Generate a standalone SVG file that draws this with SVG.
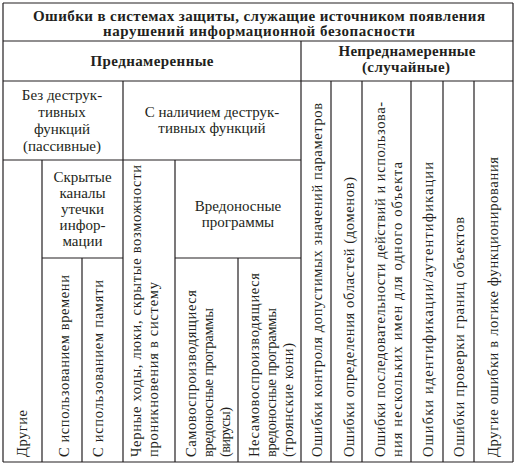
<svg xmlns="http://www.w3.org/2000/svg" width="519" height="469" viewBox="0 0 519 469">
<style>
.b{font-weight:bold;font-size:15px}
.t{font-size:15px;text-anchor:middle}
.v{font-size:14.5px}
.grid line{stroke:#231f20;stroke-width:1.2}
</style>
<rect width="519" height="469" fill="#fff"/>
<g id="connectors" class="grid">
<line x1="3" y1="3" x2="513" y2="3"/>
<line x1="3" y1="41" x2="513" y2="41"/>
<line x1="3" y1="81" x2="513" y2="81"/>
<line x1="3" y1="160" x2="301" y2="160"/>
<line x1="42" y1="258" x2="123" y2="258"/>
<line x1="175" y1="258" x2="301" y2="258"/>
<line x1="3" y1="462" x2="513" y2="462"/>
<line x1="3" y1="3" x2="3" y2="462"/>
<line x1="513" y1="3" x2="513" y2="462"/>
<line x1="301" y1="41" x2="301" y2="462"/>
<line x1="123" y1="81" x2="123" y2="462"/>
<line x1="42" y1="160" x2="42" y2="462"/>
<line x1="82" y1="258" x2="82" y2="462"/>
<line x1="175" y1="160" x2="175" y2="462"/>
<line x1="238" y1="258" x2="238" y2="462"/>
<line x1="331" y1="81" x2="331" y2="462"/>
<line x1="362" y1="81" x2="362" y2="462"/>
<line x1="411" y1="81" x2="411" y2="462"/>
<line x1="443" y1="81" x2="443" y2="462"/>
<line x1="474" y1="81" x2="474" y2="462"/>
</g>
<g font-family="Liberation Serif, Times New Roman, serif" fill="#231f20">
<g id="title">
<text class="b" x="259" y="21" text-anchor="middle" textLength="452" lengthAdjust="spacing">Ошибки в системах защиты, служащие источником появления</text>
<text class="b" x="259" y="36" text-anchor="middle" textLength="312" lengthAdjust="spacing">нарушений информационной безопасности</text>
</g>
<g id="intentional">
<text class="b" x="152" y="66" text-anchor="middle" textLength="123" lengthAdjust="spacing">Преднамеренные</text>
</g>
<g id="unintentional">
<text class="b" x="407" y="56" text-anchor="middle" textLength="137" lengthAdjust="spacing">Непреднамеренные</text>
<text class="b" x="406" y="72" text-anchor="middle" textLength="88" lengthAdjust="spacing">(случайные)</text>
</g>
<g id="passive">
<text class="t" x="62" y="100">Без деструк-</text>
<text class="t" x="62" y="117">тивных</text>
<text class="t" x="62" y="134">функций</text>
<text class="t" x="62" y="151">(пассивные)</text>
</g>
<g id="destructive">
<text class="t" x="212" y="117">С наличием деструк-</text>
<text class="t" x="212" y="133">тивных функций</text>
</g>
<g id="covert">
<text class="t" x="82.5" y="182">Скрытые</text>
<text class="t" x="82.5" y="198">каналы</text>
<text class="t" x="82.5" y="214">утечки</text>
<text class="t" x="82.5" y="230">инфор-</text>
<text class="t" x="82.5" y="246">мации</text>
</g>
<g id="malware">
<text class="t" x="238" y="211">Вредоносные</text>
<text class="t" x="238" y="227">программы</text>
</g>
<g id="other">
<text class="v" transform="translate(27,457) rotate(-90)" textLength="47" lengthAdjust="spacing">Другие</text>
</g>
<g id="time">
<text class="v" transform="translate(69,457) rotate(-90)" textLength="182" lengthAdjust="spacing">С использованием времени</text>
</g>
<g id="memory">
<text class="v" transform="translate(103,457) rotate(-90)" textLength="177" lengthAdjust="spacing">С использованием памяти</text>
</g>
<g id="backdoors">
<text class="v" transform="translate(141,457) rotate(-90)" textLength="292" lengthAdjust="spacing">Черные ходы, люки, скрытые возможности</text>
<text class="v" transform="translate(158,457) rotate(-90)" textLength="175" lengthAdjust="spacing">проникновения в систему</text>
</g>
<g id="viruses">
<text class="v" transform="translate(196,457) rotate(-90)" textLength="167" lengthAdjust="spacing">Самовоспроизводящиеся</text>
<text class="v" transform="translate(213,457) rotate(-90)" textLength="149" lengthAdjust="spacing">вредоносные программы</text>
<text class="v" transform="translate(230,457) rotate(-90)" textLength="50" lengthAdjust="spacing">(вирусы)</text>
</g>
<g id="trojans">
<text class="v" transform="translate(259,457) rotate(-90)" textLength="184" lengthAdjust="spacing">Несамовоспроизводящиеся</text>
<text class="v" transform="translate(276,457) rotate(-90)" textLength="149" lengthAdjust="spacing">вредоносные программы</text>
<text class="v" transform="translate(293,457) rotate(-90)" textLength="114" lengthAdjust="spacing">(троянские кони)</text>
</g>
<g id="param-control">
<text class="v" transform="translate(322,457) rotate(-90)" textLength="354" lengthAdjust="spacing">Ошибки контроля допустимых значений параметров</text>
</g>
<g id="domains">
<text class="v" transform="translate(354,457) rotate(-90)" textLength="280" lengthAdjust="spacing">Ошибки определения областей (доменов)</text>
</g>
<g id="sequence">
<text class="v" transform="translate(385,457) rotate(-90)" textLength="355" lengthAdjust="spacing">Ошибки последовательности действий  и использова-</text>
<text class="v" transform="translate(402,457) rotate(-90)" textLength="295" lengthAdjust="spacing">ния нескольких имен для одного объекта</text>
</g>
<g id="auth">
<text class="v" transform="translate(433,457) rotate(-90)" textLength="295" lengthAdjust="spacing">Ошибки идентификации/аутентификации</text>
</g>
<g id="bounds">
<text class="v" transform="translate(464,457) rotate(-90)" textLength="240" lengthAdjust="spacing">Ошибки проверки границ объектов</text>
</g>
<g id="logic">
<text class="v" transform="translate(498,457) rotate(-90)" textLength="300" lengthAdjust="spacing">Другие ошибки в логике функционирования</text>
</g>
</g>
</svg>
